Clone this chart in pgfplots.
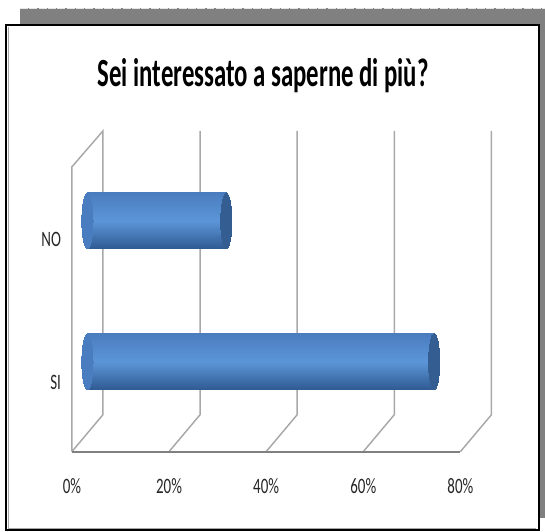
\documentclass[border=0pt]{standalone}
\usepackage{fontspec}
\setmainfont{Carlito}
\newfontfamily\titlefont[FakeStretch=0.62]{Carlito}
\newfontfamily\labelfont[FakeStretch=0.68]{Carlito}
\usepackage{pgfplots}
\pgfplotsset{compat=1.18}
\definecolor{bartop}{HTML}{4A7DC0}
\definecolor{barmid}{HTML}{5C96D8}
\definecolor{barbot}{HTML}{2F5A92}
\definecolor{capcol}{HTML}{345D91}
\definecolor{gridcol}{HTML}{A8A8A8}
\definecolor{shadowcol}{HTML}{808080}
\begin{document}
\begin{tikzpicture}
\begin{axis}[
  x=3.645pt, y=0.75pt,
  xmin=-3.2, xmax=80, ymin=-452, ymax=-130,
  clip=false,
  axis line style={draw=none},
  major tick length=0pt,
  xtick={-3.2,16.8,36.8,56.8,76.8},
  xticklabels={0\%,20\%,40\%,60\%,80\%},
  ytick={-383,-240}, yticklabels={SI,NO},
  xticklabel style={anchor=center, yshift=-26pt, font=\labelfont\fontsize{16.5}{18}\selectfont, text=black!85},
  yticklabel style={anchor=east, inner sep=0pt, xshift=-8pt, font=\labelfont\fontsize{16.5}{18}\selectfont, text=black!85},
  unbounded coords=jump,
  scaled x ticks=false,
]
% picture bounds, shadow and frame
\path (axis cs:-18.004,0) rectangle (axis cs:94.14,-532);
\fill[shadowcol] (axis cs:-13.89,-8) rectangle (axis cs:94.14,-25);
\fill[shadowcol] (axis cs:92.9,-8) rectangle (axis cs:94.14,-518);
\draw[white!80!gray, line width=0.6pt, dash pattern=on 6pt off 1pt] (axis cs:-13.89,-8.5) -- (axis cs:94.14,-8.5);
\draw[draw=black, line width=1.6pt] (axis cs:-16.77,-25) rectangle (axis cs:92.9,-530.5);
\draw[gray!70, line width=0.6pt] (axis cs:-16.2,-27) -- (axis cs:-16.2,-528.5) -- (axis cs:92.4,-528.5);
% 3D walls and gridlines
\addplot[gridcol, line width=1.1pt, forget plot] coordinates {
  (-3.2,-452) (-3.2,-167) (3.2,-131) (3.2,-415) (-3.2,-452)
  (nan,nan)
  (23.2,-131) (23.2,-415) (16.8,-452)
  (nan,nan)
  (43.2,-131) (43.2,-415) (36.8,-452)
  (nan,nan)
  (63.2,-131) (63.2,-415) (56.8,-452)
  (nan,nan)
  (83.2,-131) (83.2,-415) (76.8,-452)
};
\addplot[gray, line width=1.3pt, forget plot] coordinates {(-3.2,-452) (76.8,-452)};
% left rounded ends
\addplot[only marks, mark=*, mark size=21pt, forget plot, color=bartop,
  mark options={xscale=0.2, draw=bartop, fill=bartop, line width=0pt}] coordinates {(0,-362) (0,-221)};
% bars (one plot per bar so each gets its own shading)
\addplot[xbar, bar width=42pt, draw=none, forget plot,
  top color=bartop, bottom color=barbot, middle color=barmid] coordinates {(71.4,-362)};
\addplot[xbar, bar width=42pt, draw=none, forget plot,
  top color=bartop, bottom color=barbot, middle color=barmid] coordinates {(28.6,-221)};
% right caps
\addplot[only marks, mark=*, mark size=21pt, forget plot, color=capcol,
  mark options={xscale=0.2, draw=capcol, fill=capcol, line width=0pt}] coordinates {(71.4,-362) (28.6,-221)};
% title
\node[anchor=base, font=\titlefont\bfseries\fontsize{30}{36}\selectfont] at (axis cs:36.2,-87) {Sei interessato a saperne di più?};
\end{axis}
\end{tikzpicture}
\end{document}
